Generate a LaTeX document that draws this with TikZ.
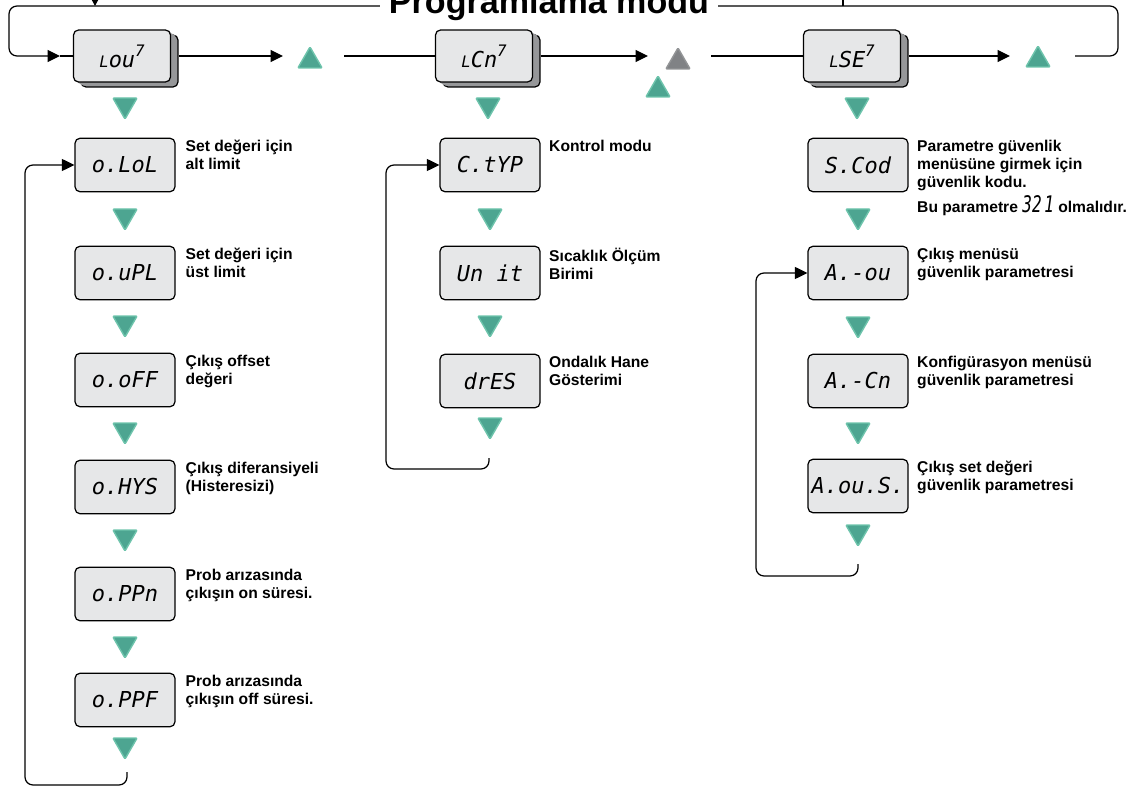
\documentclass[tikz,border=0pt]{standalone}
\usepackage{fontspec}
\setmainfont{Liberation Sans}
\newfontfamily\segfont{DejaVu Sans Mono}
\usetikzlibrary{shapes.geometric,shadows,arrows.meta}
\definecolor{keygreen}{RGB}{77,165,145}
\definecolor{keyedge}{RGB}{110,196,172}
\definecolor{keygray}{RGB}{128,130,133}
\definecolor{lcdfill}{RGB}{230,231,232}
\definecolor{lcdshade}{RGB}{150,151,153}
\newcommand{\lcdsmall}[1]{{\fontsize{9}{9}\selectfont #1}}

\begin{document}
\begin{tikzpicture}[x=0.02cm,y=-0.02cm,line width=0.7pt]
    %
    % `lcd' is one parameter display, `lcdtop' the raised menu displays.
    % `keyup'/`keydown' are the green keys, `keyoff' the gray one.
    % `note' is the text beside a display.
    \tikzstyle{lcd} = [draw,fill=lcdfill,rounded corners=1mm,minimum width=2cm,minimum height=1.07cm,inner sep=0pt,font=\segfont\itshape\fontsize{12.5}{12.5}\selectfont]
    \tikzstyle{lcdtop} = [lcd,minimum width=1.94cm,minimum height=1.04cm,
        copy shadow={shadow xshift=1.5mm,shadow yshift=-1mm,fill=lcdshade,draw=black},
        copy shadow={shadow xshift=1.1mm,shadow yshift=-0.75mm,fill=lcdshade,draw=none},
        copy shadow={shadow xshift=0.7mm,shadow yshift=-0.5mm,fill=lcdshade,draw=none},
        copy shadow={shadow xshift=0.35mm,shadow yshift=-0.25mm,fill=lcdshade,draw=none}]
    \tikzstyle{keyup} = [shape=regular polygon,regular polygon sides=3,fill=keygreen,draw=keyedge,line width=0.8pt,rounded corners=0.6pt,minimum size=0.56cm,inner sep=0pt]
    \tikzstyle{keydown} = [keyup,shape border rotate=180]
    \tikzstyle{keyoff} = [keyup,fill=keygray,draw=keygray!85]
    \tikzstyle{note} = [anchor=north west,align=left,inner sep=0pt,font=\bfseries\fontsize{8.9}{10.2}\selectfont]
    \tikzstyle{flow} = [-{Triangle[length=2.5mm,width=2.4mm]},rounded corners=1.6mm]
    %
    \useasboundingbox (0,0) rectangle (1140,787);
    %
    % Menu row
    \node[lcdtop] (lou) at (122,56) {\lcdsmall{L}ou\raisebox{.5em}{\lcdsmall{7}}};
    \node[lcdtop] (lcn) at (484,56) {\lcdsmall{L}Cn\raisebox{.5em}{\lcdsmall{7}}};
    \node[lcdtop] (lse) at (852,56) {\lcdsmall{L}SE\raisebox{.5em}{\lcdsmall{7}}};
    \node[keyup] (up1) at (310,61) {};
    \node[keyoff] (up2) at (678,62) {};
    \node[keyup] (up2b) at (658,90) {};
    \node[keyup] (up3) at (1038,60) {};
    %
    \coordinate (tip1) at (283,56);
    \coordinate (tip2) at (648,56);
    \coordinate (tip3) at (1010,56);
    \coordinate (gap1) at (344,56);
    \coordinate (gap2) at (711,56);
    \coordinate (gap3) at (1075,56);
    \coordinate (in1) at (60,56);
    \draw[flow] ([xshift=1.5mm]lou.east) -- (tip1);
    \draw[flow] ([xshift=1.5mm]lcn.east) -- (tip2);
    \draw[flow] ([xshift=1.5mm]lse.east) -- (tip3);
    \draw (gap1) -- (lcn.west);
    \draw (gap2) -- (lse.west);
    \draw[flow] (gap3) -- (1118,56) -- (1118,6) -- (9,6) -- (9,56) -- (in1);
    \draw (in1) -- (lou.west);
    %
    % Incoming lines (cut at the top)
    \coordinate (from1) at (95,-2);
    \coordinate (join1) at (95,6);
    \coordinate (from2) at (843,-2);
    \coordinate (join2) at (843,6);
    \draw[-{Triangle[length=1.2mm,width=1.2mm]}] (from1) -- (join1);
    \draw (from2) -- (join2);
    %
    % Title
    \node[fill=white,inner xsep=5pt,inner ysep=1pt,anchor=base,font=\bfseries\fontsize{19.4}{22}\selectfont] (title) at (549,14) {Programlama modu};
    %
    % Column 1
    \node[keydown] (k10) at (125,105) {};
    \node[lcd] (olol) at (125,165) {o.LoL};
    \node[keydown] (k11) at (125,216) {};
    \node[lcd] (oupl) at (125,273) {o.uPL};
    \node[keydown] (k12) at (125,323) {};
    \node[lcd] (ooff) at (125,380) {o.oFF};
    \node[keydown] (k13) at (125,430) {};
    \node[lcd] (ohys) at (125,487) {o.HYS};
    \node[keydown] (k14) at (125,537) {};
    \node[lcd] (oppn) at (125,594) {o.PPn};
    \node[keydown] (k15) at (125,644) {};
    \node[lcd] (oppf) at (125,700) {o.PPF};
    \node[keydown] (k16) at (125,745) {};
    \coordinate (end1) at (127,772);
    \draw[flow] (end1) -- (127,785) -- (25,785) -- (25,165) -- (olol.west);
    %
    \node[note] at ([xshift=1.9mm,yshift=-0.4mm]olol.north east) {Set değeri için\\alt limit};
    \node[note] at ([xshift=1.9mm,yshift=-0.4mm]oupl.north east) {Set değeri için\\üst limit};
    \node[note] at ([xshift=1.9mm,yshift=-0.4mm]ooff.north east) {Çıkış offset\\değeri};
    \node[note] at ([xshift=1.9mm,yshift=-0.4mm]ohys.north east) {Çıkış diferansiyeli\\(Histeresizi)};
    \node[note] at ([xshift=1.9mm,yshift=-0.4mm]oppn.north east) {Prob arızasında\\çıkışın on süresi.};
    \node[note] at ([xshift=1.9mm,yshift=-0.4mm]oppf.north east) {Prob arızasında\\çıkışın off süresi.};
    %
    % Column 2
    \node[keydown] (k20) at (488,105) {};
    \node[lcd] (ctyp) at (490,165) {C.tYP};
    \node[keydown] (k21) at (490,216) {};
    \node[lcd] (unit) at (490,273) {Un it};
    \node[keydown] (k22) at (490,323) {};
    \node[lcd] (dres) at (490,381) {drES};
    \node[keydown] (k23) at (490,425) {};
    \coordinate (end2) at (489,458);
    \draw[flow] (end2) -- (489,469) -- (386,469) -- (386,165) -- (ctyp.west);
    %
    \node[note] at ([xshift=1.6mm,yshift=-0.4mm]ctyp.north east) {Kontrol modu};
    \node[note] at ([xshift=1.6mm,yshift=-0.4mm]unit.north east) {Sıcaklık Ölçüm\\Birimi};
    \node[note] at ([xshift=1.6mm,yshift=-0.4mm]dres.north east) {Ondalık Hane\\Gösterimi};
    %
    % Column 3
    \node[keydown] (k30) at (857,105) {};
    \node[lcd] (scod) at (858,165) {S.Cod};
    \node[keydown] (k31) at (858,216) {};
    \node[lcd] (aou) at (858,273) {A.-ou};
    \node[keydown] (k32) at (858,324) {};
    \node[lcd] (acn) at (858,381) {A.-Cn};
    \node[keydown] (k33) at (858,430) {};
    \node[lcd] (aous) at (858,486) {A.ou.S.};
    \node[keydown] (k34) at (858,532) {};
    \coordinate (end3) at (858,564);
    \draw[flow] (end3) -- (858,576) -- (756,576) -- (756,273) -- (aou.west);
    %
    \node[note] at ([xshift=1.6mm,yshift=-0.4mm]scod.north east) {Parametre güvenlik\\menüsüne girmek için\\güvenlik kodu.\\[2pt]Bu parametre {\segfont\itshape\mdseries\fontsize{13}{13}\selectfont\scalebox{0.7}[1]{32\,1}} olmalıdır.};
    \node[note] at ([xshift=1.6mm,yshift=-0.4mm]aou.north east) {Çıkış menüsü\\güvenlik parametresi};
    \node[note] at ([xshift=1.6mm,yshift=-0.4mm]acn.north east) {Konfigürasyon menüsü\\güvenlik parametresi};
    \node[note] at ([xshift=1.6mm,yshift=-0.4mm]aous.north east) {Çıkış set değeri\\güvenlik parametresi};
    %
\end{tikzpicture}
\end{document}
